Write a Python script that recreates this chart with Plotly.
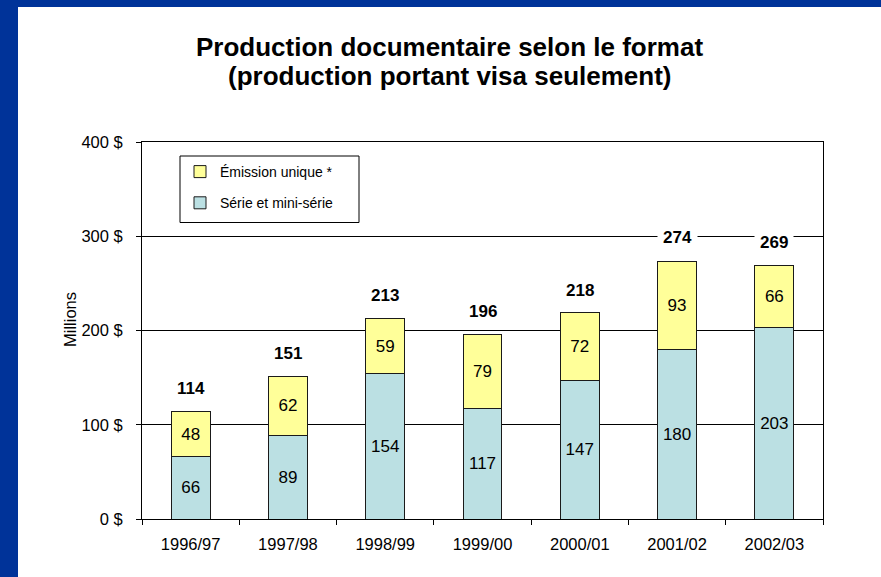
import plotly.graph_objects as go

categories = ["1996/97", "1997/98", "1998/99", "1999/00", "2000/01", "2001/02", "2002/03"]
serie = [66, 89, 154, 117, 147, 180, 203]
emission = [48, 62, 59, 79, 72, 93, 66]
totals = [114, 151, 213, 196, 218, 274, 269]
yticks = [0, 100, 200, 300, 400]
title_lines = ["Production documentaire selon le format", "(production portant visa seulement)"]

FONT = "Liberation Sans, Arial, sans-serif"
W, H = 881, 577
ML, MR, MT, MB = 142, 58, 142, 58
PW, PH = W - ML - MR, H - MT - MB

def px_x(x):
    return (x - ML) / PW

def px_y(y):
    return (H - MB - y) / PH

fig = go.Figure()
fig.add_trace(go.Bar(
    x=categories, y=serie, name="Série et mini-série",
    marker=dict(color="#BBE0E3", line=dict(color="#1a1a1a", width=1)),
    text=serie, textposition="inside", insidetextanchor="middle",
    textfont=dict(size=17, color="black", family=FONT),
    legendgroup="a", legendrank=2, hoverinfo="skip",
))
fig.add_trace(go.Bar(
    x=categories, y=emission, name="Émission unique *",
    marker=dict(color="#FFFF99", line=dict(color="#1a1a1a", width=1)),
    text=emission, textposition="inside", insidetextanchor="middle",
    textfont=dict(size=17, color="black", family=FONT),
    legendgroup="b", legendrank=1, hoverinfo="skip",
))

for c, t in zip(categories, totals):
    fig.add_annotation(
        x=c, y=t, text=f"<b>{t}</b>", showarrow=False, yshift=23,
        font=dict(size=17, color="black", family=FONT),
        bgcolor="white", borderpad=5,
    )

fig.add_annotation(
    xref="paper", yref="paper", x=px_x(70), y=px_y(320), text="Millions",
    xanchor="center", yanchor="middle",
    textangle=-90, showarrow=False, font=dict(size=16.5, color="black", family=FONT),
)

for line, ypx in zip(title_lines, [47, 76]):
    fig.add_annotation(
        xref="paper", yref="paper", x=px_x(449.5), y=px_y(ypx), text=f"<b>{line}</b>",
        xanchor="center", yanchor="middle", showarrow=False,
        font=dict(size=26, color="black", family=FONT),
    )

# legend frame
fig.add_shape(type="rect", xref="paper", yref="paper", x0=px_x(180), x1=px_x(359),
              y0=px_y(222.5), y1=px_y(156),
              fillcolor="white", line=dict(color="black", width=1), layer="above")

# blue frame
fig.add_shape(type="rect", xref="paper", yref="paper", x0=px_x(0), x1=px_x(18),
              y0=px_y(H), y1=px_y(0),
              fillcolor="#003399", line=dict(width=0), layer="above")
fig.add_shape(type="rect", xref="paper", yref="paper", x0=px_x(0), x1=px_x(W),
              y0=px_y(7), y1=px_y(0),
              fillcolor="#003399", line=dict(width=0), layer="above")

fig.update_layout(
    width=W, height=H,
    margin=dict(l=ML, r=MR, t=MT, b=MB),
    barmode="stack", bargap=0.6,
    paper_bgcolor="white", plot_bgcolor="white",
    font=dict(family=FONT, color="black"),
    legend=dict(
        x=px_x(180), y=px_y(156), xanchor="left", yanchor="top",
        bgcolor="rgba(0,0,0,0)", borderwidth=0,
        font=dict(size=14, color="black", family=FONT),
        traceorder="grouped", tracegroupgap=10,
    ),
    showlegend=True,
)
fig.update_xaxes(
    showline=True, linecolor="black", linewidth=1, mirror=True,
    ticks="outside", ticklen=5, tickcolor="black", tickson="boundaries",
    tickfont=dict(size=16.5, family=FONT, color="black"),
    ticklabelstandoff=10, showgrid=False,
)
fig.update_yaxes(
    range=[0, 400], tickvals=yticks, ticktext=[f"{v} $" for v in yticks],
    showline=True, linecolor="black", linewidth=1, mirror=True,
    ticks="outside", ticklen=5, tickcolor="black",
    showgrid=True, gridcolor="black", gridwidth=1,
    tickfont=dict(size=16.5, family=FONT, color="black"),
    ticklabelstandoff=10, zeroline=False,
)

fig.write_html("out.html", config={"displayModeBar": False},
               post_script="document.body.style.margin='0';")
